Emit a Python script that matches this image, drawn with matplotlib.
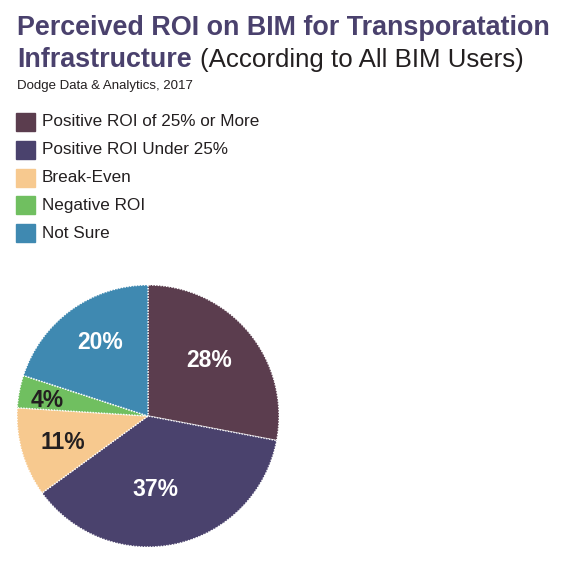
import matplotlib
matplotlib.use("Agg")
import matplotlib.pyplot as plt
import numpy as np

categories = ["Positive ROI of 25% or More", "Positive ROI Under 25%", "Break-Even", "Negative ROI", "Not Sure"]
values = [28, 37, 11, 4, 20]
colors = ["#5b3d4e", "#4a426d", "#f7c98f", "#70bf60", "#3f89b1"]
label_colors = ["white", "white", "#231f20", "#231f20", "white"]
label_dist = [0.63, 0.565, 0.68, 0.78, 0.67]
label_dang = [2.4, -7.2, 0.8, 1.8, -3.0]

W, H = 562, 572
fig = plt.figure(figsize=(W / 100, H / 100), dpi=100)
fig.patch.set_facecolor("white")

title_color = "#4a416d"
fig.text(17 / W, 1 - 35 / H, "Perceived ROI on BIM for Transporatation", fontsize=19.35,
         fontweight="bold", color=title_color, family="Liberation Sans", va="baseline")
t = fig.text(17 / W, 1 - 67 / H, "Infrastructure", fontsize=19.35,
             fontweight="bold", color=title_color, family="Liberation Sans", va="baseline")
fig.canvas.draw()
bb = t.get_window_extent()
fig.text((bb.x1 + 8) / W, 1 - 67 / H, "(According to All BIM Users)", fontsize=18.6,
         color="#231f20", family="Liberation Sans", va="baseline")
fig.text(17 / W, 1 - 89 / H, "Dodge Data & Analytics, 2017", fontsize=9.5,
         color="#231f20", family="Liberation Sans", va="baseline")

# legend
for i, (cat, col) in enumerate(zip(categories, colors)):
    yc = 122 + i * 27.8
    fig.patches.append(plt.Rectangle((16 / W, 1 - (yc + 9) / H), 19 / W, 18 / H,
                                     color=col, transform=fig.transFigure, figure=fig))
    fig.text(42 / W, 1 - yc / H, cat, fontsize=12.3, color="#231f20",
             family="Liberation Sans", va="center")

# pie
cx, cy, r = 148, 416, 131
ax = fig.add_axes([(cx - r) / W, (H - cy - r) / H, 2 * r / W, 2 * r / H])
wedges, _ = ax.pie(values, colors=colors, startangle=90, counterclock=False, radius=1,
                   wedgeprops=dict(edgecolor="white", linewidth=1.0, linestyle=(0, (1, 1))))
for w, v, lc, d, da in zip(wedges, values, label_colors, label_dist, label_dang):
    ang = np.deg2rad((w.theta1 + w.theta2) / 2 + da)
    ax.text(d * np.cos(ang), d * np.sin(ang), f"{v}%", ha="center", va="center",
            fontsize=16.5, fontweight="bold", color=lc, family="Liberation Sans")
ax.set_xlim(-1, 1)
ax.set_ylim(-1, 1)
ax.set_aspect("equal")
ax.axis("off")

fig.savefig("out.png", dpi=100, facecolor="white")
